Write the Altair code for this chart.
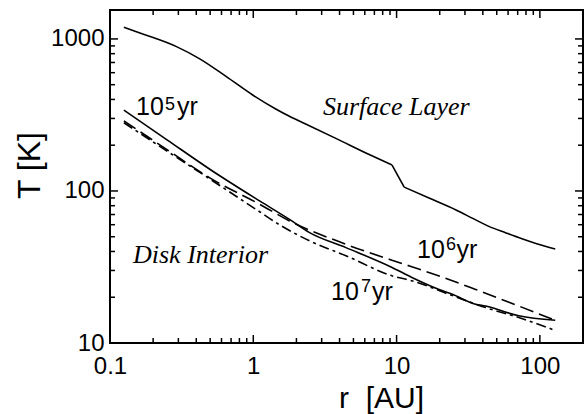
import altair as alt
import pandas as pd

# ---- data ----
r_surface = [0.125, 0.171, 0.291, 0.423, 0.649, 0.99, 1.445, 1.8, 2.3, 3.8, 6.5, 9.3, 11.3, 17, 26, 34, 44, 58, 75, 95, 128]
T_surface = [1194, 1075, 890, 740, 565, 428, 345, 309, 277, 221, 173, 148, 106, 89.5, 75, 66, 58.5, 53, 48.5, 45, 41.5]
kink_start, kink_end = 11, 12   # indices of the sharp step in the surface curve

r_1e5 = [0.125, 0.25, 0.497, 1.107, 1.79, 2.47, 4.43, 9.37, 12.9, 19.8, 24.5, 35.6, 41.8, 71.3, 128]
T_1e5 = [340, 217, 139, 86, 65, 53.2, 42.4, 31.3, 26.9, 22.5, 20.9, 18, 17.5, 15.1, 14.1]

r_1e6 = [0.125, 0.25, 0.497, 1.107, 1.79, 4.43, 12.3, 19.8, 35.6, 71.3, 128]
T_1e6 = [289, 187, 122, 81.8, 63.5, 44.6, 32.1, 27.6, 22.5, 17.5, 14.1]

r_1e7 = [0.125, 0.25, 0.497, 1.107, 1.52, 2.47, 4.43, 9.37, 12.9, 23.2, 41.8, 71.3, 128]
T_1e7 = [281, 183, 120, 73, 60, 47, 37.5, 27.6, 25.6, 20.9, 17.1, 14.7, 12.1]

x_major = [0.1, 1, 10, 100]
x_minor = [0.2, 0.3, 0.4, 0.5, 0.6, 0.7, 0.8, 0.9,
           2, 3, 4, 5, 6, 7, 8, 9,
           20, 30, 40, 50, 60, 70, 80, 90]
y_major = [10, 100, 1000]
y_minor = [20, 30, 40, 50, 60, 70, 80, 90,
           200, 300, 400, 500, 600, 700, 800, 900]

ann_texts = ["10", "5", "yr", "10", "6", "yr", "10", "7", "yr", "Surface Layer", "Disk Interior"]

W, H = 473, 333
xscale = alt.Scale(type="log", domain=[0.1, 200], nice=False)
yscale = alt.Scale(type="log", domain=[10, 1550], nice=False)
SANS = "Liberation Sans"
SERIF = "Liberation Serif"

xax = alt.Axis(values=x_major, format="~g",
               title="r\u00a0\u00a0[AU]", titleFontSize=30,
               titleX=271, titleY=64, titleAlign="center", titleBaseline="alphabetic",
               labelPadding=11)
yax = alt.Axis(values=y_major, format="~g",
               title="T [K]", titleAngle=-90,
               titleX=-71, titleY=155, titleAlign="center", titleBaseline="alphabetic",
               labelPadding=6)


def line_layer(rs, ts, dash=None, interp="monotone"):
    df = pd.DataFrame({"r": rs, "T": ts})
    kw = dict(color="black", strokeWidth=1.6, interpolate=interp, clip=True)
    if dash:
        kw["strokeDash"] = dash
    return alt.Chart(df).mark_line(**kw).encode(
        x=alt.X("r:Q", scale=xscale, axis=xax),
        y=alt.Y("T:Q", scale=yscale, axis=yax),
    )


def xticks(vals, length, side):
    df = pd.DataFrame({"r": vals})
    if side == "bottom":
        y0, y1 = H, H - length
    else:
        y0, y1 = 0, length
    return alt.Chart(df).mark_rule(color="black", strokeWidth=1.5).encode(
        x=alt.X("r:Q", scale=xscale, axis=xax),
        y=alt.value(y0), y2=alt.value(y1))


def yticks(vals, length, side):
    df = pd.DataFrame({"T": vals})
    if side == "left":
        x0, x1 = 0, length
    else:
        x0, x1 = W, W - length
    return alt.Chart(df).mark_rule(color="black", strokeWidth=1.5).encode(
        y=alt.Y("T:Q", scale=yscale, axis=yax),
        x=alt.value(x0), x2=alt.value(x1))


def text_layer(i, x, y, size, font=SANS, style="normal", align="center"):
    df = pd.DataFrame({"t": [ann_texts[i]]})
    return alt.Chart(df).mark_text(
        font=font, fontSize=size, fontStyle=style, align=align,
        baseline="alphabetic", color="black"
    ).encode(text="t:N", x=alt.value(x), y=alt.value(y))


layers = [
    line_layer(r_surface[:kink_start + 1], T_surface[:kink_start + 1]),
    line_layer(r_surface[kink_start:kink_end + 1], T_surface[kink_start:kink_end + 1], interp="linear"),
    line_layer(r_surface[kink_end:], T_surface[kink_end:]),
    line_layer(r_1e5, T_1e5),
    line_layer(r_1e6, T_1e6, dash=[14, 6]),
    line_layer(r_1e7, T_1e7, dash=[10, 4, 3, 4]),
    xticks(x_major, 8, "bottom"), xticks(x_minor, 5, "bottom"),
    xticks(x_major, 8, "top"), xticks(x_minor, 5, "top"),
    yticks(y_major, 8, "left"), yticks(y_minor, 5, "left"),
    yticks(y_major, 8, "right"), yticks(y_minor, 5, "right"),
    text_layer(0, 40, 105, 25), text_layer(1, 60, 100, 18), text_layer(2, 77.5, 105, 25),
    text_layer(3, 321, 248, 25), text_layer(4, 341, 240, 18), text_layer(5, 357, 248, 25),
    text_layer(6, 235, 290, 25), text_layer(7, 256, 282, 18), text_layer(8, 272.5, 290, 25),
    text_layer(9, 213, 105, 26, font=SERIF, style="italic", align="left"),
    text_layer(10, 23, 253, 26, font=SERIF, style="italic", align="left"),
]

chart = alt.layer(*layers).properties(
    width=W, height=H,
    padding={"left": 110, "top": 10, "right": 1, "bottom": 71},
    autosize=alt.AutoSizeParams(type="none"),
    background="white",
).configure_view(
    stroke="black", strokeWidth=2
).configure_axis(
    grid=False, ticks=False, tickSize=0, domain=False,
    labelFont=SANS, labelFontSize=24, labelColor="black", labelFlush=False,
    titleFont=SANS, titleFontSize=32, titleFontWeight="normal", titleColor="black",
)

chart.save("out.html", embed_options={"renderer": "svg", "actions": False})
